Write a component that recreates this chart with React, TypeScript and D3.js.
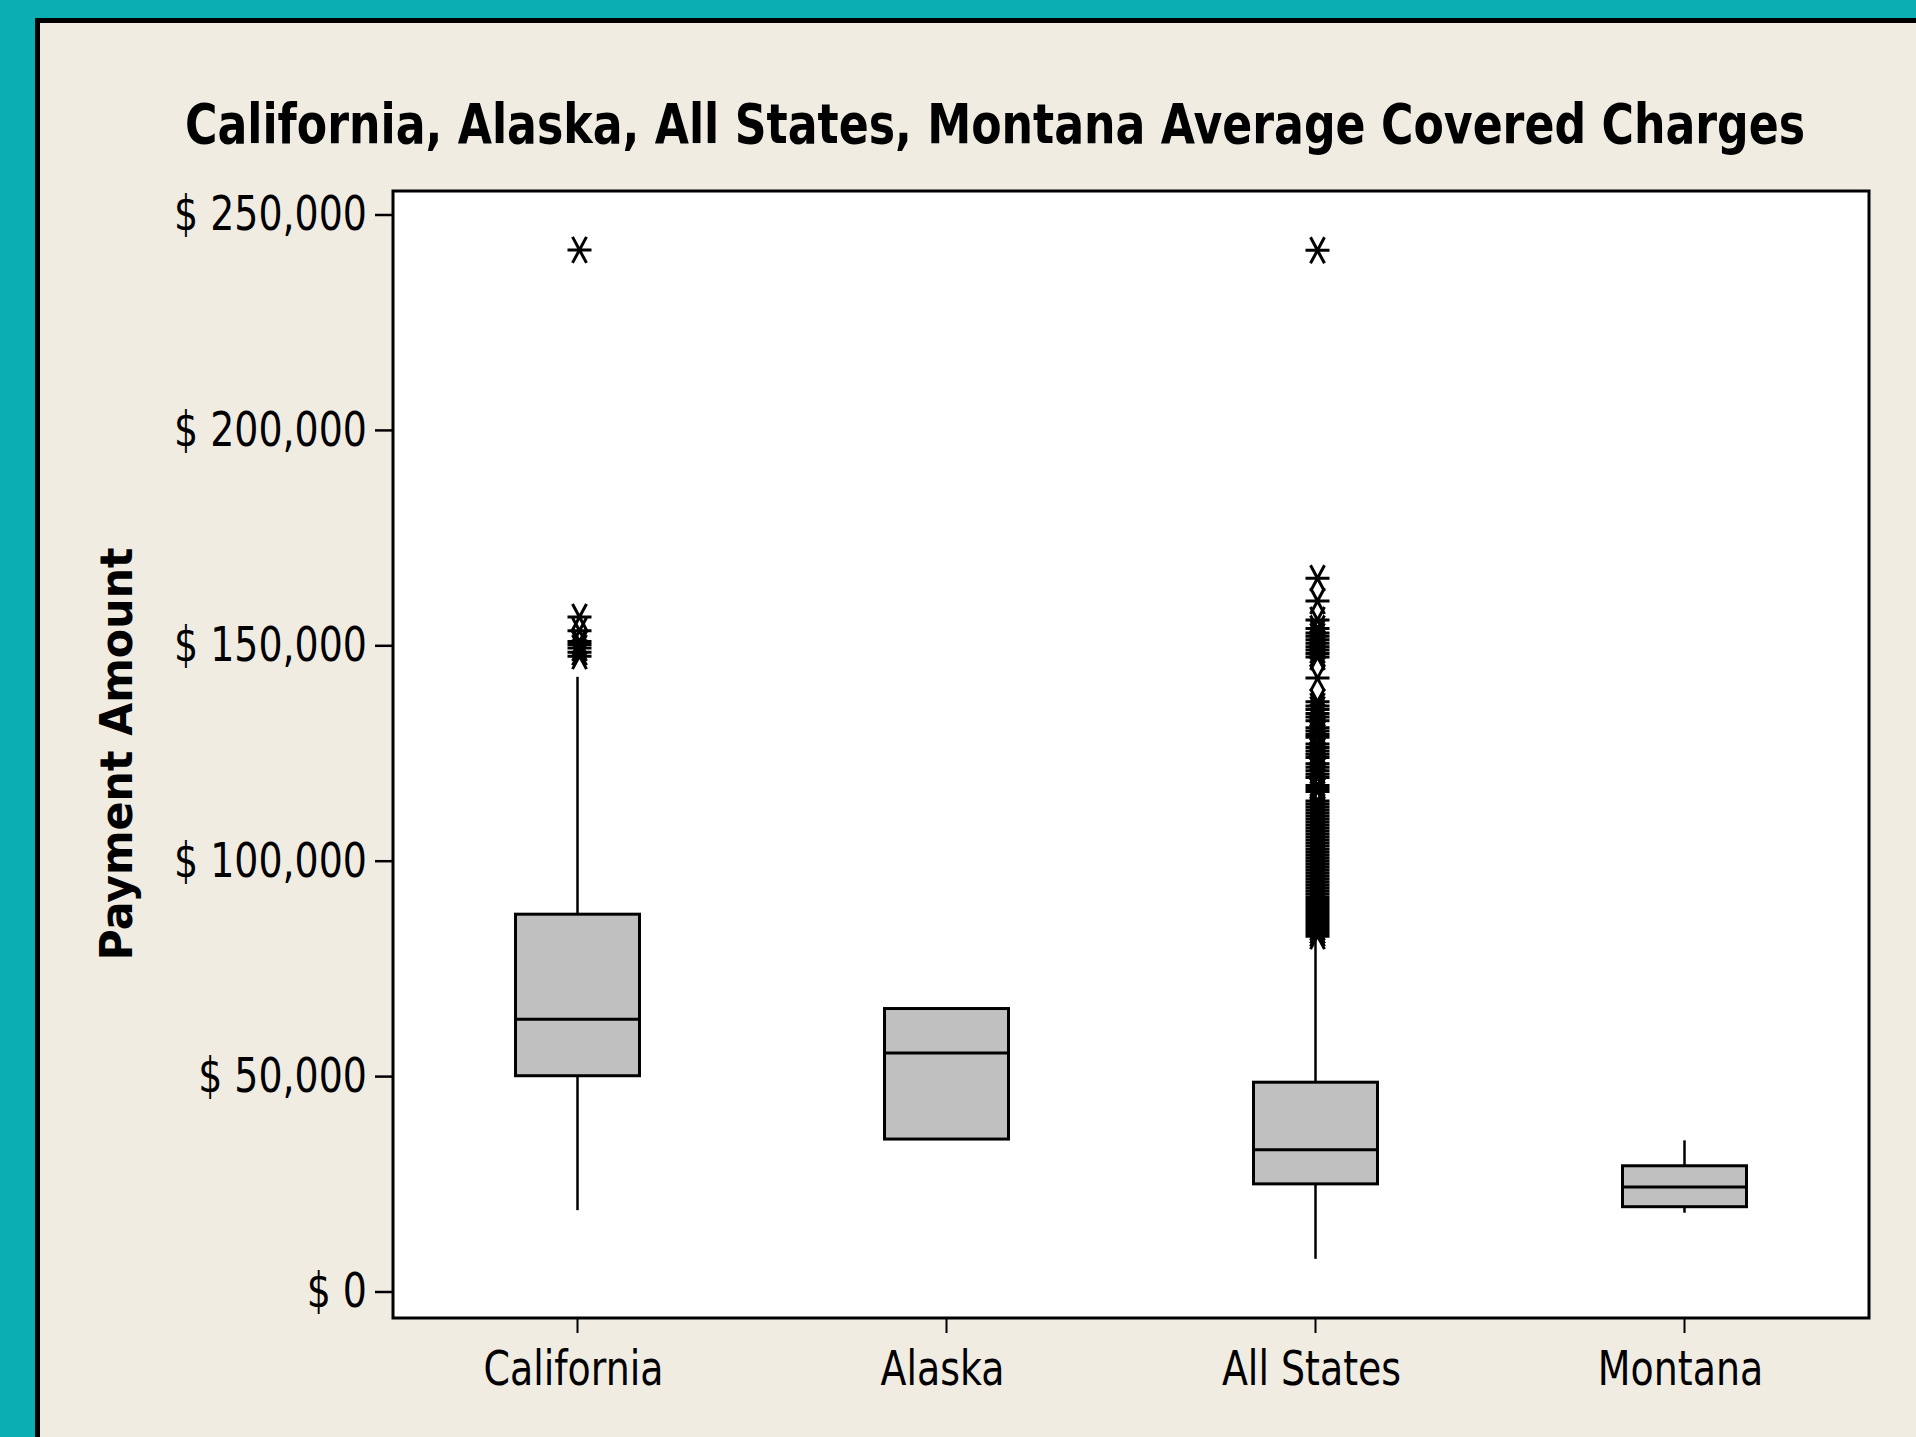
import { useEffect, useLayoutEffect, useRef, useState } from "react";
import * as d3 from "d3";

const WIDTH = 1916;
const HEIGHT = 1437;
const PLOT = { left: 393, top: 191, right: 1869, bottom: 1318 };

const TITLE = "California, Alaska, All States, Montana Average Covered Charges";
const Y_LABEL = "Payment Amount";

const categories = ["California", "Alaska", "All States", "Montana"];
const yTicks = [0, 50000, 100000, 150000, 200000, 250000];

// five-number summaries
const whiskerLow = [19000, 35500, 7700, 18400];
const q1 = [50200, 35500, 25100, 19800];
const median = [63300, 55500, 33000, 24400];
const q3 = [87700, 65800, 48700, 29300];
const whiskerHigh = [142800, 65800, 82000, 35200];

const californiaOutliers = [241900, 156700, 153500, 151000, 150300, 149500, 148500, 147600];
const alaskaOutliers: number[] = [];
const allStatesOutliers = [
  241800, 165700, 160400, 156000, 154000, 153000, 152200, 151400, 150600, 149800,
  149000, 148200, 147400, 142500,
  137000, 136000, 135200, 134300, 133500, 132600, 131000, 130200, 129400, 128800,
  127200, 126400, 125600, 124800, 124100, 122600, 121800, 121000, 120200, 119400,
  117600, 116900, 116200, 114000, 113300, 112600, 111900, 111200, 110500, 109800,
  109100, 108400, 107700, 107000, 106300, 105600, 104900, 104200, 103500, 102800,
  102100, 101400, 100700, 100000, 99300, 98600, 97900, 97200, 96500, 95800, 95100,
  94400, 93700, 93000, 92300, 91600, 90900, 90200, 89500, 88800, 88100, 87400,
  86700, 86000, 85300, 84600, 83900, 83200, 82600,
];
const montanaOutliers: number[] = [];
const outliers = [californiaOutliers, alaskaOutliers, allStatesOutliers, montanaOutliers];

const TEAL = "#0AAFB4";
const PANEL = "#F0ECE2";
const BOX_FILL = "#C0C0C0";
const FONT = "'DejaVu Sans', Verdana, sans-serif";
const SQUEEZE = 0.79;

const STAR = "M-12,0H12M-7,-13L7,13M-7,13L7,-13";

export default function App() {
  const titleRef = useRef<SVGTextElement>(null);
  const yLabelRef = useRef<SVGTextElement>(null);
  const [titleScale, setTitleScale] = useState(0.72);
  const [yLabelScale, setYLabelScale] = useState(0.95);

  useEffect(() => {
    document.body.style.margin = "0";
  }, []);

  // squeeze the bold texts to the widths they take in the original
  useLayoutEffect(() => {
    if (titleRef.current) setTitleScale(1620 / titleRef.current.getComputedTextLength());
    if (yLabelRef.current) setYLabelScale(413 / yLabelRef.current.getComputedTextLength());
  }, []);

  const x = d3.scaleBand<string>().domain(categories).range([PLOT.left, PLOT.right]).padding(0);
  const y = d3.scaleLinear().domain([0, 250000]).range([1292, 215]);
  const fmt = d3.format(",");
  const boxW = x.bandwidth() * 0.336;

  return (
    <svg width={WIDTH} height={HEIGHT} style={{ display: "block" }}>
      <rect x={0} y={0} width={WIDTH} height={HEIGHT} fill={TEAL} />
      <rect x={37.5} y={20.5} width={WIDTH} height={HEIGHT} fill={PANEL} stroke="#000" strokeWidth={5} />

      <text
        ref={titleRef}
        transform={`translate(995,143) scale(${titleScale},1)`}
        textAnchor="middle"
        fontFamily={FONT}
        fontWeight="bold"
        fontSize={56}
        fill="#000"
      >
        {TITLE}
      </text>

      <text
        ref={yLabelRef}
        transform={`translate(132,754) rotate(-90) scale(${yLabelScale},1)`}
        textAnchor="middle"
        fontFamily={FONT}
        fontWeight="bold"
        fontSize={44}
        fill="#000"
      >
        {Y_LABEL}
      </text>

      <rect
        x={PLOT.left}
        y={PLOT.top}
        width={PLOT.right - PLOT.left}
        height={PLOT.bottom - PLOT.top}
        fill="#fff"
        stroke="#000"
        strokeWidth={3}
      />

      {/* y axis */}
      {yTicks.map((t) => (
        <g key={t} transform={`translate(0,${y(t)})`}>
          <line x1={375} x2={PLOT.left} stroke="#000" strokeWidth={2.5} />
          <text
            transform={`translate(367,0) scale(${SQUEEZE},1)`}
            dy="0.32em"
            textAnchor="end"
            fontFamily={FONT}
            fontSize={48}
            fill="#000"
          >
            {`$ ${fmt(t)}`}
          </text>
        </g>
      ))}

      {/* x axis */}
      {categories.map((c) => {
        const cx = (x(c) ?? 0) + x.bandwidth() / 2;
        return (
          <g key={c}>
            <line x1={cx} x2={cx} y1={PLOT.bottom} y2={PLOT.bottom + 15} stroke="#000" strokeWidth={2} />
            <text
              transform={`translate(${cx - 4},1385) scale(${SQUEEZE},1)`}
              textAnchor="middle"
              fontFamily={FONT}
              fontSize={48}
              fill="#000"
            >
              {c}
            </text>
          </g>
        );
      })}

      {/* boxes */}
      {categories.map((c, i) => {
        const cx = (x(c) ?? 0) + x.bandwidth() / 2;
        return (
          <g key={c}>
            <line x1={cx} x2={cx} y1={y(whiskerLow[i])} y2={y(q1[i])} stroke="#000" strokeWidth={2.5} />
            <line x1={cx} x2={cx} y1={y(q3[i])} y2={y(whiskerHigh[i])} stroke="#000" strokeWidth={2.5} />
            <rect
              x={cx - boxW / 2}
              y={y(q3[i])}
              width={boxW}
              height={y(q1[i]) - y(q3[i])}
              fill={BOX_FILL}
              stroke="#000"
              strokeWidth={3}
            />
            <line
              x1={cx - boxW / 2}
              x2={cx + boxW / 2}
              y1={y(median[i])}
              y2={y(median[i])}
              stroke="#000"
              strokeWidth={3}
            />
            {outliers[i].map((v, j) => (
              <path
                key={j}
                d={STAR}
                transform={`translate(${cx + 2},${y(v)})`}
                fill="none"
                stroke="#000"
                strokeWidth={3}
              />
            ))}
          </g>
        );
      })}
    </svg>
  );
}
